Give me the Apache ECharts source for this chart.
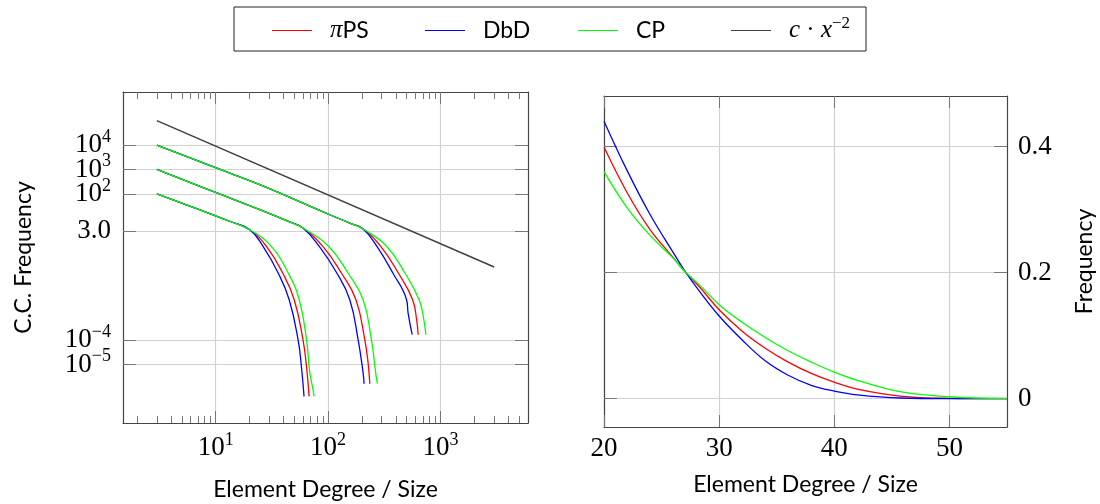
<!DOCTYPE html>
<html><head><meta charset="utf-8">
<script src="https://cdn.jsdelivr.net/npm/echarts@6/dist/echarts.min.js"></script>
<style>html,body{margin:0;padding:0;background:#fff}#c{width:1100px;height:504px}</style>
</head><body><div id="c"></div>
<script>
// ---------- Left panel: C.C. frequency (log-log) ----------
const ccLowHead  = [[3,100],[5,41.6],[10,12.5],[13.3,7.5],[20.1,3.38]];
const ccLowPiPS  = [[28.3,0.698],[39.5,0.0568],[50.0,0.00457],[59.8,1.05e-4],[64.3,8.4e-6],[67.8,5.0e-7]];
const ccLowDbD   = [[26.4,0.698],[36.0,0.0568],[45.1,0.00457],[54.1,1.05e-4],[57.9,8.4e-6],[61.1,5.0e-7]];
const ccLowCP    = [[31.3,0.698],[44.2,0.0568],[55.4,0.00457],[64.3,1.05e-4],[68.8,4.7e-6],[73.5,9.4e-7],[75,5.0e-7]];

const ccMidHead  = [[3,1000],[10,114],[24.7,22.4],[45,7.2],[59.8,3.96]];
const ccMidPiPS  = [[89.8,0.698],[131.3,0.0568],[177,0.00457],[212,1.05e-4],[227,1.16e-5],[235,1.65e-6]];
const ccMidDbD   = [[83.5,0.698],[119.6,0.0568],[156,0.00457],[185,1.05e-4],[205,4.5e-6],[209,1.65e-6]];
const ccMidCP    = [[101.4,0.698],[150.4,0.0568],[205,0.00457],[243,1.05e-4],[261,8.4e-6],[269,2.9e-6],[275,1.65e-6]];

const ccHighHead = [[3,10000],[10,1175],[24.7,236],[103.5,13.9],[156,6.35],[205,3.6]];
const ccHighPiPS = [[294,0.698],[421.5,0.0568],[565,0.00457],[613,6.9e-4],[633,1.68e-4]];
const ccHighDbD  = [[272,0.698],[376.7,0.0568],[499,0.00457],[515,0.0013],[560,1.68e-4]];
const ccHighCP   = [[333,0.698],[482,0.0568],[646,0.00457],[711,6.9e-4],[741,1.68e-4]];

const powerLaw   = [[3,1e5],[3000,0.1]];   // c * x^-2

const ccXTicks   = [10,100,1000];
const ccXMinor   = [2,3,4,5,6,7,8,9,20,30,40,50,60,70,80,90,200,300,400,500,600,700,800,900,2000,3000,4000,5000];
const ccYTicks   = [1e-5,1e-4,3,100,1000,10000];
const ccYLabelsA = [1e-5,3,100,10000];
const ccYLabelsB = [1e-4,1000];

// ---------- Right panel: frequency (linear) ----------
const freqX    = [20,22,24,26,27,28.3,30,32,34,36,38,40,42,45.7,50,55];
const freqPiPS = [0.399,0.327,0.268,0.224,0.202,0.177,0.141,0.107,0.08,0.058,0.04,0.026,0.015,0.004,0.0005,0];
const freqDbD  = [0.44,0.362,0.292,0.232,0.203,0.17,0.131,0.093,0.06,0.037,0.021,0.012,0.006,0.001,0,0];
const freqCP   = [0.36,0.303,0.259,0.223,0.202,0.18,0.149,0.121,0.097,0.076,0.058,0.042,0.029,0.011,0.003,0.0003];
const freqXTicks = [20,30,40,50];
const freqYTicks = [0,0.2,0.4];

const NAMES = ['πPS','DbD','CP','c·x^-2'];
const COLORS = {'πPS':'#ff0000','DbD':'#0000ff','CP':'#00ff00','c·x^-2':'#404040'};

const SERIF = 'Liberation Serif';
const SANS = 'Lato';
const AXC = '#444', TICKC = '#777', GRIDC = '#d2d2d2';
const TF = 27;

function sup(v){
  const e = Math.round(Math.log10(v));
  return '{b|10}{s|' + (e < 0 ? '\u2212' + (-e) : e) + '}';
}
const labelRich = {
  b:{fontFamily:SERIF,fontSize:TF,color:'#000',lineHeight:22},
  s:{fontFamily:SERIF,fontSize:18,color:'#000',lineHeight:6,padding:[0,0,16,0]}
};
const yLabFmt = v => (Math.abs(v-3) < 1e-9 ? '{b|3.0}' : sup(v));

function line(name, data, xi, yi, extra){
  return Object.assign({
    type:'line', name, data, xAxisIndex:xi, yAxisIndex:yi,
    showSymbol:false, symbol:'none', smooth:0.45,
    color:COLORS[name],
    itemStyle:{color:COLORS[name]},
    lineStyle:{color:COLORS[name], width:1.3},
    emphasis:{disabled:true}, animation:false, z:3
  }, extra||{});
}

const series = [];
[[ccLowHead,ccLowPiPS,ccLowDbD,ccLowCP],[ccMidHead,ccMidPiPS,ccMidDbD,ccMidCP],[ccHighHead,ccHighPiPS,ccHighDbD,ccHighCP]]
.forEach(g => {
  series.push(line('πPS', g[0].concat(g[1]), 0, 0));
  series.push(line('DbD', g[0].concat(g[2]), 0, 0));
  series.push(line('CP',  g[0].concat(g[3]), 0, 0));
});
series.push(line('c·x^-2', powerLaw, 0, 0, {smooth:false, lineStyle:{color:COLORS['c·x^-2'], width:1.5}}));
series.push(line('πPS', freqX.map((x,i)=>[x,freqPiPS[i]]), 4, 2, {smooth:0.4}));
series.push(line('DbD', freqX.map((x,i)=>[x,freqDbD[i]]), 4, 2, {smooth:0.4}));
series.push(line('CP',  freqX.map((x,i)=>[x,freqCP[i]]), 4, 2, {smooth:0.4}));

const nameStyle = {fontFamily:SANS, fontSize:23, color:'#000'};
const axLine = {show:true, onZero:false, lineStyle:{color:AXC, width:1.2}};
const labBase = {interval:0, hideOverlap:false, showMinLabel:true, showMaxLabel:true, color:'#000'};
function logX(pos, ticks, len, opts){
  return Object.assign({
    gridIndex:0, type:'log', logBase:10, min:1.5, max:6000, position:pos,
    axisLine:axLine,
    axisTick:{show:true, inside:true, length:len, customValues:ticks, lineStyle:{color:TICKC, width:1}},
    axisLabel:{show:false}, splitLine:{show:false}
  }, opts||{});
}
function logY(pos, opts){
  return Object.assign({
    gridIndex:0, type:'log', logBase:10, min:4.05e-8, max:1.49e6, position:pos,
    axisLine:axLine,
    axisTick:{show:true, inside:true, length:13, customValues:ccYTicks, lineStyle:{color:TICKC}},
    axisLabel:{show:false}, splitLine:{show:false}
  }, opts||{});
}

const option = {
  backgroundColor:'#fff',
  animation:false,
  grid:[
    {left:123, top:92, width:405, height:331, outerBoundsMode:'none'},
    {left:604, top:96, width:403, height:331, outerBoundsMode:'none'}
  ],
  legend:{
    left:234, top:7, orient:'horizontal',
    data:NAMES.map(n => ({name:n, itemStyle:{color:COLORS[n], borderWidth:0}, lineStyle:{color:COLORS[n]}})),
    icon:'path://M0,0L40,0L40,1L0,1Z',
    itemWidth:40, itemHeight:1.6, itemGap:18,
    padding:[8,0,8,38],
    borderColor:'#222', borderWidth:1,
    selectedMode:false,
    formatter: n => n==='πPS' ? '{g|}{m|π}PS' : (n==='c·x^-2' ? '{g|}{m|c}{n| · }{m|x}{s|\u22122}' : '{g|}'+n),
    textStyle:{fontFamily:SANS, fontSize:23, color:'#000', width:90, lineHeight:23,
      rich:{
        g:{width:13},
        m:{fontFamily:SERIF, fontStyle:'italic', fontSize:25, color:'#000'},
        n:{fontFamily:SERIF, fontSize:25, color:'#000'},
        s:{fontFamily:SERIF, fontSize:17, color:'#000', padding:[0,0,14,0]}
      }}
  },
  xAxis:[
    logX('bottom', ccXTicks, 12, {
      axisLabel:Object.assign({}, labBase, {show:true, customValues:ccXTicks, formatter:sup, rich:labelRich, margin:14}),
      splitLine:{show:true, lineStyle:{color:GRIDC, width:1.2}},
      name:'Element Degree / Size', nameLocation:'middle', nameGap:55, nameTextStyle:nameStyle
    }),
    logX('bottom', ccXMinor, 7, {axisLine:{show:false}}),
    logX('top', ccXTicks, 12),
    logX('top', ccXMinor, 7, {axisLine:{show:false}}),
    {
      gridIndex:1, type:'value', min:20, max:55, position:'bottom',
      axisLine:axLine,
      axisTick:{show:true, inside:true, length:12, customValues:freqXTicks, lineStyle:{color:TICKC}},
      axisLabel:Object.assign({}, labBase, {show:true, customValues:freqXTicks, fontFamily:SERIF, fontSize:TF, margin:8}),
      splitLine:{show:true, lineStyle:{color:GRIDC, width:1.2}},
      name:'Element Degree / Size', nameLocation:'middle', nameGap:46, nameTextStyle:nameStyle
    },
    {
      gridIndex:1, type:'value', min:20, max:55, position:'top',
      axisLine:axLine,
      axisTick:{show:true, inside:true, length:12, customValues:freqXTicks, lineStyle:{color:TICKC}},
      axisLabel:{show:false}, splitLine:{show:false}
    }
  ],
  yAxis:[
    logY('left', {
      axisLabel:Object.assign({}, labBase, {show:true, customValues:ccYLabelsA, margin:12, formatter:yLabFmt, rich:labelRich}),
      splitLine:{show:true, lineStyle:{color:GRIDC, width:1.2}},
      name:'C.C. Frequency', nameLocation:'middle', nameGap:88, nameRotate:90, nameTextStyle:nameStyle
    }),
    logY('right'),
    {
      gridIndex:1, type:'value', min:-0.045, max:0.48, position:'right',
      axisLine:axLine,
      axisTick:{show:true, inside:true, length:13, customValues:freqYTicks, lineStyle:{color:TICKC}},
      axisLabel:Object.assign({}, labBase, {show:true, customValues:freqYTicks, fontFamily:SERIF, fontSize:TF, margin:11}),
      splitLine:{show:true, lineStyle:{color:GRIDC, width:1.2}},
      name:'Frequency', nameLocation:'middle', nameGap:66, nameRotate:90, nameTextStyle:nameStyle
    },
    {
      gridIndex:1, type:'value', min:-0.045, max:0.48, position:'left',
      axisLine:axLine,
      axisTick:{show:true, inside:true, length:13, customValues:freqYTicks, lineStyle:{color:TICKC}},
      axisLabel:{show:false}, splitLine:{show:false}
    },
    logY('left', {
      axisLine:{show:false}, axisTick:{show:false},
      axisLabel:Object.assign({}, labBase, {show:true, customValues:ccYLabelsB, margin:12, formatter:yLabFmt, rich:labelRich})
    })
  ],
  series
};
const chart = echarts.init(document.getElementById('c'), null, {renderer:'canvas'});
chart.setOption(option);
</script></body></html>
